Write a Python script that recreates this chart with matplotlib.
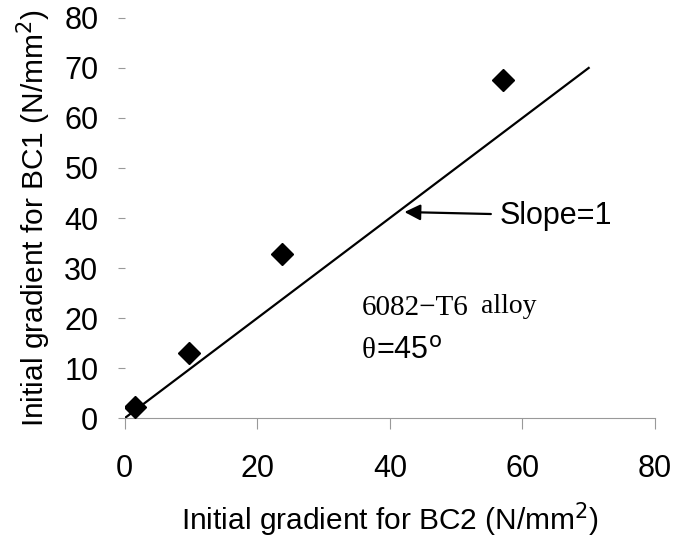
import matplotlib
matplotlib.use('Agg')
import matplotlib.pyplot as plt

# data
bc2 = [1.6, 9.7, 23.7, 57.0]
bc1 = [2.3, 13.1, 32.8, 67.5]
line_x = [0, 70]
line_y = [0, 70]
x_ticks = [0, 20, 40, 60, 80]
y_ticks = [0, 10, 20, 30, 40, 50, 60, 70, 80]

plt.rcParams['font.family'] = ['Liberation Sans', 'DejaVu Sans']

fig = plt.figure(figsize=(6.78, 5.43), dpi=100)
ax = fig.add_axes([0.184, 0.230, 0.782, 0.737])

ax.plot(line_x, line_y, color='black', lw=1.6, zorder=2)
ax.plot(bc2, bc1, linestyle='none', marker='D', ms=11, color='black', zorder=3)

ax.set_xlim(0, 80)
ax.set_ylim(0, 80)
ax.set_xticks(x_ticks)
ax.set_yticks(y_ticks)

for s in ['top', 'right', 'left']:
    ax.spines[s].set_visible(False)
ax.spines['bottom'].set_color('#999999')
ax.spines['bottom'].set_linewidth(0.8)
ax.tick_params(axis='x', direction='out', length=8, width=0.8, color='#999999',
               labelsize=22, pad=18)
ax.tick_params(axis='y', direction='out', length=5, width=0.8, color='#999999',
               labelsize=22, pad=14)

ax.set_xlabel('Initial gradient for BC2 (N/mm$^2$)', fontsize=21.5, labelpad=12)
ax.set_ylabel('Initial gradient for BC1 (N/mm$^2$)', fontsize=21.5, labelpad=8)

ax.annotate('Slope=1', xy=(42.2, 41.2), xytext=(56.5, 40.5),
            fontsize=22, va='center', ha='left',
            arrowprops=dict(arrowstyle='-|>', color='black', lw=1.6,
                            mutation_scale=24, shrinkA=4, shrinkB=0))

ax.text(35.8, 20.7, '6082\u2212T6', fontsize=21, family='Liberation Serif', va='baseline')
ax.text(53.8, 21.1, 'alloy', fontsize=20, family='Liberation Serif', va='baseline')
ax.text(35.8, 13.4, '\u03b8', fontsize=21, family='Liberation Serif', va='center')
ax.text(37.9, 13.4, '=45$^{\\rm o}$', fontsize=22, va='center')

fig.savefig('out.png', dpi=100)
